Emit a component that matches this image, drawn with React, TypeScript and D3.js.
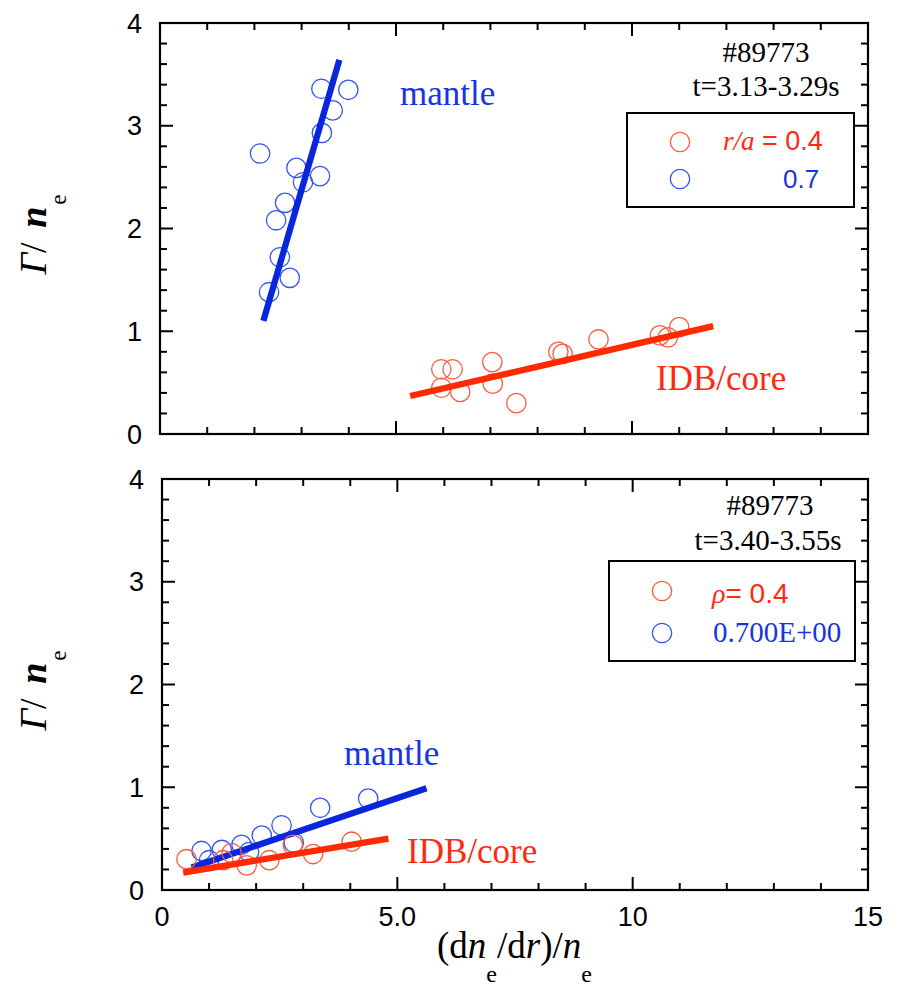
import React from "react";
import * as d3 from "d3";

// ---- data ----
// upper panel: #89773, t = 3.13-3.29 s
const mantleUpperX = [3.42, 3.99, 3.66, 3.43, 2.12, 2.89, 3.39, 3.03, 2.65, 2.46, 2.54, 2.75, 2.31];
const mantleUpperY = [3.36, 3.35, 3.15, 2.93, 2.73, 2.59, 2.51, 2.45, 2.25, 2.08, 1.72, 1.52, 1.38];
const coreUpperX = [5.96, 6.2, 5.96, 6.36, 7.04, 7.05, 7.55, 8.44, 8.53, 9.29, 10.59, 10.76, 11.0];
const coreUpperY = [0.63, 0.63, 0.45, 0.41, 0.7, 0.49, 0.3, 0.8, 0.78, 0.92, 0.96, 0.94, 1.04];
const mantleUpperFit = [[2.19, 1.1], [3.8, 3.64]];
const coreUpperFit = [[5.3, 0.37], [11.72, 1.05]];

// lower panel: #89773, t = 3.40-3.55 s
const mantleLowerX = [0.84, 1.0, 1.27, 1.69, 1.85, 2.12, 2.54, 2.8, 3.36, 4.38];
const mantleLowerY = [0.38, 0.29, 0.39, 0.44, 0.37, 0.53, 0.63, 0.46, 0.8, 0.89];
const coreLowerX = [0.52, 1.3, 1.48, 1.8, 2.28, 2.78, 3.21, 4.03];
const coreLowerY = [0.3, 0.29, 0.36, 0.24, 0.29, 0.44, 0.35, 0.47];
const mantleLowerFit = [[0.63, 0.22], [5.62, 0.99]];
const coreLowerFit = [[0.45, 0.17], [4.81, 0.5]];

// axes
const xDomain = [0, 15];
const yDomain = [0, 4];
const xMajorTicks = [0, 5, 10, 15];
const xTickLabels = ["0", "5.0", "10", "15"];
const xMinorStep = 1;
const yMajorTicks = [0, 1, 2, 3, 4];
const yTickLabels = ["0", "1", "2", "3", "4"];
const yMinorStep = 0.2;

// ---- styling ----
const SERIF = "'Liberation Serif', 'Times New Roman', serif";
const SANS = "'Liberation Sans', Arial, sans-serif";
const BLUE_LINE = "#0a26dc";
const RED_LINE = "#ff2a00";
const BLUE_PT = "#3457ea";
const RED_PT = "#ff5a40";
const BLUE_TXT = "#1a34e0";
const RED_TXT = "#ff2a10";

type Box = { left: number; right: number; top: number; bottom: number };

function zip(xs: number[], ys: number[]) {
  return xs.map((x, i) => [x, ys[i]] as [number, number]);
}

function Frame({ box, showXLabels }: { box: Box; showXLabels: boolean }) {
  const x = d3.scaleLinear().domain(xDomain).range([box.left, box.right]);
  const y = d3.scaleLinear().domain(yDomain).range([box.bottom, box.top]);
  const xMinor = d3.range(xDomain[0], xDomain[1] + 1e-9, xMinorStep).filter((v) => !xMajorTicks.includes(v));
  const yMinor = d3
    .range(yDomain[0], yDomain[1] + 1e-9, yMinorStep)
    .map((v) => +v.toFixed(3))
    .filter((v) => !yMajorTicks.includes(v));
  const maj = 13;
  const min = 7;
  const tick = { stroke: "#000", strokeWidth: 2 };
  return (
    <g>
      {xMajorTicks.map((v) => (
        <g key={"xM" + v}>
          <line x1={x(v)} x2={x(v)} y1={box.bottom} y2={box.bottom - maj} {...tick} />
          <line x1={x(v)} x2={x(v)} y1={box.top} y2={box.top + maj} {...tick} />
        </g>
      ))}
      {xMinor.map((v) => (
        <g key={"xm" + v}>
          <line x1={x(v)} x2={x(v)} y1={box.bottom} y2={box.bottom - min} {...tick} />
          <line x1={x(v)} x2={x(v)} y1={box.top} y2={box.top + min} {...tick} />
        </g>
      ))}
      {yMajorTicks.map((v) => (
        <g key={"yM" + v}>
          <line x1={box.left} x2={box.left + maj} y1={y(v)} y2={y(v)} {...tick} />
          <line x1={box.right} x2={box.right - maj} y1={y(v)} y2={y(v)} {...tick} />
        </g>
      ))}
      {yMinor.map((v) => (
        <g key={"ym" + v}>
          <line x1={box.left} x2={box.left + min} y1={y(v)} y2={y(v)} {...tick} />
          <line x1={box.right} x2={box.right - min} y1={y(v)} y2={y(v)} {...tick} />
        </g>
      ))}
      <rect
        x={box.left}
        y={box.top}
        width={box.right - box.left}
        height={box.bottom - box.top}
        fill="none"
        stroke="#000"
        strokeWidth={2.2}
      />
      {yMajorTicks.map((v, i) => (
        <text key={"yl" + v} x={box.left - 18} y={y(v) + 9.5} textAnchor="end" fontFamily={SANS} fontSize={27}>
          {yTickLabels[i]}
        </text>
      ))}
      {showXLabels &&
        xMajorTicks.map((v, i) => (
          <text key={"xl" + v} x={x(v)} y={box.bottom + 36} textAnchor="middle" fontFamily={SANS} fontSize={27}>
            {xTickLabels[i]}
          </text>
        ))}
      <text
        transform={`translate(46, ${(box.top + box.bottom) / 2 + 46}) rotate(-90)`}
        fontFamily={SERIF}
        fontSize={38}
      >
        <tspan fontStyle="italic">Γ</tspan>
        <tspan>/ </tspan>
        <tspan dx={5} fontStyle="italic" fontWeight="bold">n</tspan>
        <tspan dx={2} dy={20} fontSize={23}>e</tspan>
      </text>
    </g>
  );
}

function Series({
  box,
  pts,
  fit,
  ptColor,
  lineColor,
}: {
  box: Box;
  pts: [number, number][];
  fit: number[][];
  ptColor: string;
  lineColor: string;
}) {
  const x = d3.scaleLinear().domain(xDomain).range([box.left, box.right]);
  const y = d3.scaleLinear().domain(yDomain).range([box.bottom, box.top]);
  const line = d3
    .line<number[]>()
    .x((d) => x(d[0]))
    .y((d) => y(d[1]));
  return (
    <g>
      {pts.map((p, i) => (
        <circle key={i} cx={x(p[0])} cy={y(p[1])} r={9.7} fill="none" stroke={ptColor} strokeWidth={1.3} />
      ))}
      <path d={line(fit) || ""} stroke={lineColor} strokeWidth={6.3} fill="none" />
    </g>
  );
}

export default function App() {
  const upper: Box = { left: 160, right: 868, top: 23, bottom: 434 };
  const lower: Box = { left: 162, right: 868, top: 479, bottom: 890 };
  return (
    <div style={{ position: "absolute", left: 0, top: 0 }}>
      <svg width={907} height={987} style={{ display: "block", background: "#fff" }}>
        {/* upper panel */}
        <Frame box={upper} showXLabels={false} />
        <Series box={upper} pts={zip(mantleUpperX, mantleUpperY)} fit={mantleUpperFit} ptColor={BLUE_PT} lineColor={BLUE_LINE} />
        <Series box={upper} pts={zip(coreUpperX, coreUpperY)} fit={coreUpperFit} ptColor={RED_PT} lineColor={RED_LINE} />
        <text x={400} y={105} fontFamily={SERIF} fontSize={35} fill={BLUE_TXT}>mantle</text>
        <text x={656} y={390} fontFamily={SERIF} fontSize={35} fill={RED_TXT}>IDB/core</text>
        <text x={766} y={62} textAnchor="middle" fontFamily={SERIF} fontSize={29}>#89773</text>
        <text x={766} y={96} textAnchor="middle" fontFamily={SERIF} fontSize={29}>t=3.13-3.29s</text>
        <rect x={627} y={113} width={227} height={94} fill="none" stroke="#000" strokeWidth={2} />
        <circle cx={680} cy={142} r={9.7} fill="none" stroke={RED_PT} strokeWidth={1.3} />
        <circle cx={680} cy={179} r={9.7} fill="none" stroke={BLUE_PT} strokeWidth={1.3} />
        <text x={723} y={150} fontSize={27} fill={RED_TXT}>
          <tspan fontFamily={SERIF} fontStyle="italic">r/a</tspan>
          <tspan fontFamily={SANS}> = 0.4</tspan>
        </text>
        <text x={783} y={188} fontFamily={SANS} fontSize={26} fill={BLUE_TXT}>0.7</text>

        {/* lower panel */}
        <Frame box={lower} showXLabels={true} />
        <Series box={lower} pts={zip(mantleLowerX, mantleLowerY)} fit={mantleLowerFit} ptColor={BLUE_PT} lineColor={BLUE_LINE} />
        <Series box={lower} pts={zip(coreLowerX, coreLowerY)} fit={coreLowerFit} ptColor={RED_PT} lineColor={RED_LINE} />
        <text x={344} y={765} fontFamily={SERIF} fontSize={35} fill={BLUE_TXT}>mantle</text>
        <text x={407} y={863} fontFamily={SERIF} fontSize={35} fill={RED_TXT}>IDB/core</text>
        <text x={770} y={515} textAnchor="middle" fontFamily={SERIF} fontSize={29}>#89773</text>
        <text x={768} y={550} textAnchor="middle" fontFamily={SERIF} fontSize={29}>t=3.40-3.55s</text>
        <rect x={609} y={561} width={246} height={100} fill="none" stroke="#000" strokeWidth={2} />
        <circle cx={662} cy={591} r={9.7} fill="none" stroke={RED_PT} strokeWidth={1.3} />
        <circle cx={662} cy={633} r={9.7} fill="none" stroke={BLUE_PT} strokeWidth={1.3} />
        <text x={712} y={603} fontSize={28} fill={RED_TXT}>
          <tspan fontFamily={SERIF} fontStyle="italic">ρ</tspan>
          <tspan fontFamily={SANS}>= 0.4</tspan>
        </text>
        <text x={713} y={642} fontFamily={SERIF} fontSize={29} fill={BLUE_TXT}>0.700E+00</text>

        {/* x-axis title */}
        <text x={437} y={958} fontFamily={SERIF} fontSize={37}>
          <tspan>(d</tspan>
          <tspan fontStyle="italic">n</tspan>
          <tspan dy={24} fontSize={24}>e</tspan>
          <tspan dy={-24}>/d</tspan>
          <tspan fontStyle="italic">r</tspan>
          <tspan>)/</tspan>
          <tspan fontStyle="italic">n</tspan>
          <tspan dy={24} fontSize={24}>e</tspan>
        </text>
      </svg>
    </div>
  );
}
